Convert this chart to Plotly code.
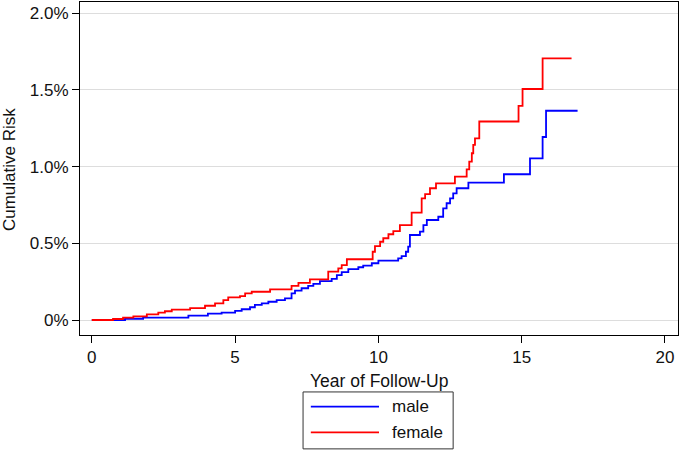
import plotly.graph_objects as go

# Step-function estimates (years, cumulative risk in %)
male_t = [0, 1.16, 1.79, 3.37, 4.05, 4.53, 5.00, 5.23, 5.52, 5.69, 5.93, 6.16, 6.45, 6.74,
          6.97, 7.09, 7.32, 7.55, 7.73, 7.96, 8.37, 8.55, 8.72, 8.95, 9.30, 9.47, 9.77,
          10.00, 10.69, 10.81, 10.96, 11.04, 11.10, 11.45, 11.57, 11.69, 12.09, 12.26,
          12.38, 12.50, 12.61, 12.73, 13.14, 14.38, 15.29, 15.73, 15.85, 16.95]
male_r = [0, 0.008, 0.015, 0.028, 0.041, 0.048, 0.059, 0.070, 0.083, 0.098, 0.109, 0.119,
          0.130, 0.141, 0.174, 0.191, 0.207, 0.222, 0.236, 0.254, 0.268, 0.292, 0.312,
          0.331, 0.344, 0.354, 0.370, 0.387, 0.402, 0.417, 0.445, 0.478, 0.554, 0.576,
          0.619, 0.652, 0.673, 0.728, 0.761, 0.793, 0.826, 0.859, 0.895, 0.950, 1.053,
          1.193, 1.364, 1.364]

female_t = [0, 0.74, 1.09, 1.45, 1.92, 2.32, 2.55, 2.79, 3.43, 3.95, 4.30, 4.59, 4.76,
            5.17, 5.35, 5.58, 6.22, 6.97, 7.21, 7.61, 8.25, 8.60, 8.72, 8.90, 9.80, 9.88,
            10.06, 10.17, 10.35, 10.52, 10.75, 11.16, 11.51, 11.63, 11.80, 12.01, 12.67,
            13.08, 13.17, 13.26, 13.31, 13.37, 13.52, 14.89, 15.03, 15.73, 16.74]
female_r = [0, 0.0065, 0.015, 0.024, 0.037, 0.048, 0.057, 0.067, 0.078, 0.093, 0.109,
            0.130, 0.148, 0.156, 0.174, 0.184, 0.200, 0.222, 0.242, 0.265, 0.315, 0.337,
            0.358, 0.396, 0.445, 0.482, 0.510, 0.533, 0.559, 0.580, 0.619, 0.700, 0.793,
            0.821, 0.859, 0.891, 0.934, 0.982, 1.032, 1.087, 1.141, 1.184, 1.294, 1.396,
            1.506, 1.706, 1.706]

x_ticks = [0, 5, 10, 15, 20]
y_ticks = [0, 0.5, 1.0, 1.5, 2.0]
y_labels = ["0%", "0.5%", "1.0%", "1.5%", "2.0%"]

series_names = ["male", "female"]
series_colors = ["#0000ff", "#ff0000"]

FONT = "Arial, 'Liberation Sans', Arimo, sans-serif"

fig = go.Figure()
for t, r, name, col in [(male_t, male_r, series_names[0], series_colors[0]),
                        (female_t, female_r, series_names[1], series_colors[1])]:
    fig.add_trace(go.Scatter(x=t, y=r, mode="lines", name=name,
                             line=dict(color=col, width=1.8, shape="hv"),
                             showlegend=False))

fig.update_layout(
    width=680, height=452,
    margin=dict(l=80, r=2, t=2, b=117),
    paper_bgcolor="white", plot_bgcolor="white",
    font=dict(family=FONT, size=17, color="#111111"),
    xaxis=dict(range=[-0.412, 20.454], tickvals=x_ticks, ticks="outside", ticklen=7,
               tickcolor="black", showgrid=False, zeroline=False,
               showline=True, linecolor="black", linewidth=1, mirror=True,
               tickfont=dict(size=17)),
    yaxis=dict(range=[-0.0978, 2.073], tickvals=y_ticks, ticktext=y_labels,
               ticks="outside", ticklen=7, tickcolor="black",
               showgrid=True, gridcolor="#dddddd", gridwidth=1, zeroline=False,
               showline=True, linecolor="black", linewidth=1, mirror=True,
               tickfont=dict(size=17)),
)

# Axis titles
fig.add_annotation(text="Year of Follow-Up", xref="paper", yref="paper", x=0.5, y=-0.138,
                   showarrow=False, xanchor="center", yanchor="middle", font=dict(size=17.5))
fig.add_annotation(text="Cumulative Risk", xref="paper", yref="paper", x=-0.117, y=0.4955,
                   showarrow=False, xanchor="center", yanchor="middle", textangle=-90,
                   font=dict(size=17))

# Legend box (drawn manually to match the reference layout)
fig.add_shape(type="rect", xref="paper", yref="paper", x0=0.373, x1=0.624, y0=-0.342, y1=-0.171,
              line=dict(color="#333333", width=1), fillcolor="white")
legend_y = [-0.2153, -0.2922]
for name, col, ly in zip(series_names, series_colors, legend_y):
    fig.add_shape(type="line", xref="paper", yref="paper", x0=0.386, x1=0.50, y0=ly, y1=ly,
                  line=dict(color=col, width=1.8))
    fig.add_annotation(text=name, xref="paper", yref="paper", x=0.518, y=ly, showarrow=False,
                       xanchor="left", yanchor="middle", font=dict(size=17))

fig.write_html("out.html",
               config={"displayModeBar": False},
               post_script="document.body.style.margin='0';document.body.style.overflow='hidden';")
